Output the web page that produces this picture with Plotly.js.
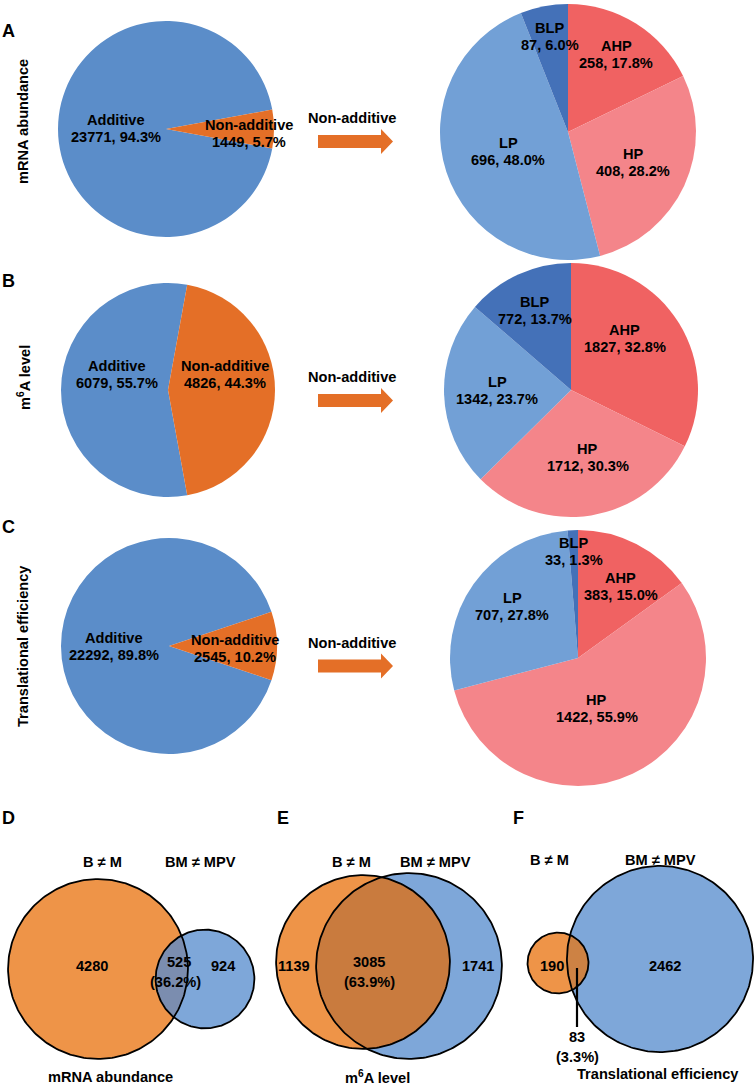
<!DOCTYPE html>
<html><head><meta charset="utf-8">
<script src="https://cdn.plot.ly/plotly-3.0.1.min.js"></script>
<style>html,body{margin:0;padding:0;background:#fff}</style>
</head><body><div id="chart" style="width:755px;height:1088px"></div>
<script>
// ---------------- data ----------------
const rowTitles = ["mRNA abundance", "m<sup>6</sup>A level", "Translational efficiency"];
const panelLetters = ["A", "B", "C", "D", "E", "F"];
const splitCategories = ["Additive", "Non-additive"];
const additiveCounts = [23771, 6079, 22292];
const additivePct = ["94.3%", "55.7%", "89.8%"];
const nonAdditiveCounts = [1449, 4826, 2545];
const nonAdditivePct = ["5.7%", "44.3%", "10.2%"];
const patternCategories = ["AHP", "HP", "LP", "BLP"];
const patternCountsA = [258, 408, 696, 87];
const patternPctA = ["17.8%", "28.2%", "48.0%", "6.0%"];
const patternCountsB = [1827, 1712, 1342, 772];
const patternPctB = ["32.8%", "30.3%", "23.7%", "13.7%"];
const patternCountsC = [383, 1422, 707, 33];
const patternPctC = ["15.0%", "55.9%", "27.8%", "1.3%"];
const arrowLabel = "Non-additive";
const vennSetNames = ["B ≠ M", "BM ≠ MPV"];
const vennTitles = ["mRNA abundance", "m<sup>6</sup>A level", "Translational efficiency"];
const vennOnlyFirst = [4280, 1139, 190];
const vennShared = [525, 3085, 83];
const vennOnlySecond = [924, 1741, 2462];
const vennSharedPct = ["36.2%", "63.9%", "3.3%"];

// ---------------- style / layout ----------------
const W = 755, H = 1088;
const FONT = "Arial, 'Liberation Sans', sans-serif";
const LABEL_SIZE = 14.6;
const leftColors = ["#5B8DC9", "#E46F27"];
const rightColors = ["#F06262", "#F4858A", "#72A0D6", "#4471B8"];
const arrowColor = "#E46F27";
const vennColors = ["#EE9448", "#7EA7D9"];

const leftPies = [{cx:166, cy:129, r:108}, {cx:168, cy:390, r:107}, {cx:169, cy:646, r:108}];
const rightPies = [{cx:568, cy:132, r:128}, {cx:571, cy:390, r:127}, {cx:578, cy:658, r:128}];
const leftLabelPlace = [
  [{f:0.46, dx:0, dy:-1}, {f:0.77, dx:0, dy:4}],
  [{f:0.48, dx:0, dy:-16}, {f:0.53, dx:0, dy:-16}],
  [{f:0.51, dx:0, dy:0}, {f:0.61, dx:0, dy:2}]
];
const rightLabelPlace = [
  [{f:0.71, dx:0, dy:0}, {f:0.56, dx:0, dy:0}, {f:0.49, dx:0, dy:0}, {f:0.76, dx:0, dy:0}],
  [{f:0.57, dx:-8, dy:-13}, {f:0.54, dx:6, dy:0}, {f:0.58, dx:0, dy:-2}, {f:0.69, dx:0, dy:0}],
  [{f:0.65, dx:5, dy:3}, {f:0.42, dx:-4, dy:2}, {f:0.65, dx:2, dy:-3}, {f:0.83, dx:0, dy:0}]
];
const rowTitlePos = [[23, 122], [24, 378], [23, 646]];
const letterPos = [[8, 31], [8, 281], [8, 527], [8, 818], [283, 818], [518, 818]];
const arrowPos = [{x0:318, x1:393, y:141.5}, {x0:318, x1:393, y:400.5}, {x0:318, x1:393, y:666}];

const vennPlace = [
  {a:[98, 969], b:[205, 979], s:2.3, overlap:"#7B8DAF",
   names:[[102, 862], [200, 862]], title:[110, 1077],
   only1:[92, 966], shared:[[179, 962], [175, 982]], only2:[223, 966], leader:null},
  {a:[363, 962], b:[409, 966], s:2.37, overlap:"#C97B3E",
   names:[[351, 862], [435, 862]], title:[377, 1077],
   only1:[294, 966], shared:[[369, 962], [369, 982]], only2:[478, 966], leader:null},
  {a:[558, 963], b:[660, 959], s:3.27, overlap:"#CD8244",
   names:[[549, 860], [660, 860]], title:[658, 1074],
   only1:[552, 966], shared:[[577, 1037], [577, 1057]], only2:[665, 966], leader:[[577, 968], [577, 1027]]}
];

// ---------------- build ----------------
const traces = [];
const annotations = [];
const shapes = [];

function txt(x, y, text, size, extra) {
  annotations.push(Object.assign({
    x: x, y: y, xref: "x", yref: "y", text: text, showarrow: false,
    xanchor: "center", yanchor: "middle",
    font: {family: FONT, size: size, color: "#000", weight: "bold"}
  }, extra || {}));
}

function pieDomain(p) {
  return {x: [(p.cx - p.r) / W, (p.cx + p.r) / W], y: [1 - (p.cy + p.r) / H, 1 - (p.cy - p.r) / H]};
}

function pieLabels(p, values, names, pcts, place, rotation) {
  const total = values.reduce((a, b) => a + b, 0);
  let cum = 0;
  values.forEach((v, i) => {
    const mid = (rotation + (cum + v / 2) / total * 360) * Math.PI / 180;
    cum += v;
    const pl = place[i];
    const x = p.cx + pl.f * p.r * Math.sin(mid) + pl.dx;
    const y = p.cy - pl.f * p.r * Math.cos(mid) + pl.dy;
    txt(x, y - 8.5, names[i], LABEL_SIZE);
    txt(x, y + 8.5, values[i] + ", " + pcts[i], LABEL_SIZE);
  });
}

const patternCounts = [patternCountsA, patternCountsB, patternCountsC];
const patternPcts = [patternPctA, patternPctB, patternPctC];

for (let k = 0; k < 3; k++) {
  // left pie: additive vs non-additive, non-additive centred at 3 o'clock
  const vals = [additiveCounts[k], nonAdditiveCounts[k]];
  const fNA = vals[1] / (vals[0] + vals[1]);
  const rot = 90 + 180 * fNA;
  traces.push({
    type: "pie", labels: splitCategories, values: vals, sort: false, direction: "clockwise",
    rotation: rot, domain: pieDomain(leftPies[k]), textinfo: "none", hoverinfo: "skip",
    marker: {colors: leftColors, line: {width: 0}}, showlegend: false
  });
  pieLabels(leftPies[k], vals, splitCategories, [additivePct[k], nonAdditivePct[k]], leftLabelPlace[k], rot);

  // right pie: patterns
  traces.push({
    type: "pie", labels: patternCategories, values: patternCounts[k], sort: false, direction: "clockwise",
    rotation: 0, domain: pieDomain(rightPies[k]), textinfo: "none", hoverinfo: "skip",
    marker: {colors: rightColors, line: {width: 0}}, showlegend: false
  });
  pieLabels(rightPies[k], patternCounts[k], patternCategories, patternPcts[k], rightLabelPlace[k], 0);

  // arrow
  const a = arrowPos[k];
  const sh = 6.5, hh = 12.5, hl = 12;
  const hx = a.x1 - hl;
  shapes.push({
    type: "path", xref: "x", yref: "y", fillcolor: arrowColor, line: {width: 0},
    path: `M${a.x0},${a.y - sh} L${hx},${a.y - sh} L${hx},${a.y - hh} L${a.x1},${a.y} L${hx},${a.y + hh} L${hx},${a.y + sh} L${a.x0},${a.y + sh} Z`
  });
  txt((a.x0 + a.x1) / 2 - 4, a.y - 23.5, arrowLabel, LABEL_SIZE);

  // row title
  txt(rowTitlePos[k][0], rowTitlePos[k][1], rowTitles[k], 14.6, {textangle: -90});
}

// panel letters
panelLetters.forEach((L, i) => txt(letterPos[i][0], letterPos[i][1], L, 18));

// ---------------- Venn diagrams ----------------
function circlePts(cx, cy, r, a0, a1, n) {
  const xs = [], ys = [];
  for (let i = 0; i <= n; i++) {
    const t = a0 + (a1 - a0) * i / n;
    xs.push(cx + r * Math.cos(t));
    ys.push(cy + r * Math.sin(t));
  }
  return [xs, ys];
}

for (let k = 0; k < 3; k++) {
  const v = vennPlace[k];
  const setA = vennOnlyFirst[k] + vennShared[k];
  const setB = vennOnlySecond[k] + vennShared[k];
  const rA = v.s * Math.sqrt(setA / Math.PI);
  const rB = v.s * Math.sqrt(setB / Math.PI);
  const [ax, ay] = v.a, [bx, by] = v.b;
  const d = Math.hypot(bx - ax, by - ay);
  const th = Math.atan2(by - ay, bx - ax);

  const cA = circlePts(ax, ay, rA, 0, 2 * Math.PI, 240);
  const cB = circlePts(bx, by, rB, 0, 2 * Math.PI, 240);
  traces.push({type: "scatter", mode: "lines", x: cA[0], y: cA[1], fill: "toself",
    fillcolor: vennColors[0], line: {width: 0}, hoverinfo: "skip", showlegend: false});
  traces.push({type: "scatter", mode: "lines", x: cB[0], y: cB[1], fill: "toself",
    fillcolor: vennColors[1], line: {width: 0}, hoverinfo: "skip", showlegend: false});

  // lens
  const ca = (d * d + rA * rA - rB * rB) / (2 * d * rA);
  const cb = (d * d + rB * rB - rA * rA) / (2 * d * rB);
  if (Math.abs(ca) < 1 && Math.abs(cb) < 1) {
    const al = Math.acos(ca), be = Math.acos(cb);
    const p1 = circlePts(ax, ay, rA, th - al, th + al, 120);
    const p2 = circlePts(bx, by, rB, th + Math.PI - be, th + Math.PI + be, 120);
    traces.push({type: "scatter", mode: "lines", x: p1[0].concat(p2[0]), y: p1[1].concat(p2[1]),
      fill: "toself", fillcolor: v.overlap, line: {width: 0}, hoverinfo: "skip", showlegend: false});
  }
  // outlines
  traces.push({type: "scatter", mode: "lines", x: cA[0], y: cA[1], line: {color: "#000", width: 1.8},
    hoverinfo: "skip", showlegend: false});
  traces.push({type: "scatter", mode: "lines", x: cB[0], y: cB[1], line: {color: "#000", width: 1.8},
    hoverinfo: "skip", showlegend: false});

  if (v.leader) {
    traces.push({type: "scatter", mode: "lines", x: [v.leader[0][0], v.leader[1][0]],
      y: [v.leader[0][1], v.leader[1][1]], line: {color: "#000", width: 2.2},
      hoverinfo: "skip", showlegend: false});
  }

  txt(v.names[0][0], v.names[0][1], vennSetNames[0], 14.6);
  txt(v.names[1][0], v.names[1][1], vennSetNames[1], 14.6);
  txt(v.title[0], v.title[1], vennTitles[k], 14.6);
  txt(v.only1[0], v.only1[1], String(vennOnlyFirst[k]), LABEL_SIZE);
  txt(v.only2[0], v.only2[1], String(vennOnlySecond[k]), LABEL_SIZE);
  txt(v.shared[0][0], v.shared[0][1], String(vennShared[k]), LABEL_SIZE);
  txt(v.shared[1][0], v.shared[1][1], "(" + vennSharedPct[k] + ")", LABEL_SIZE);
}

const layout = {
  width: W, height: H,
  margin: {l: 0, r: 0, t: 0, b: 0, pad: 0},
  paper_bgcolor: "#fff", plot_bgcolor: "rgba(0,0,0,0)",
  showlegend: false,
  xaxis: {range: [0, W], visible: false, fixedrange: true, domain: [0, 1]},
  yaxis: {range: [H, 0], visible: false, fixedrange: true, domain: [0, 1]},
  annotations: annotations,
  shapes: shapes,
  font: {family: FONT}
};

Plotly.newPlot("chart", traces, layout, {staticPlot: true, displayModeBar: false});
</script>
</body></html>
